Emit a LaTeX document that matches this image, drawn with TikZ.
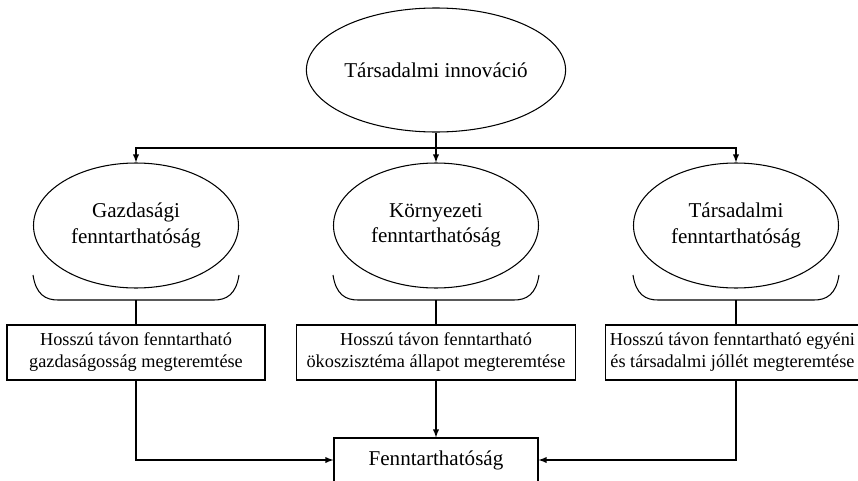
\documentclass[tikz,border=0pt]{standalone}
\usepackage{fontspec}
\setmainfont{Liberation Serif}
\usetikzlibrary{positioning}
\usetikzlibrary{shapes.geometric}

\begin{document}
\begin{tikzpicture}[
    >=latex,
    line width=0.6pt,
    oval/.style={ellipse, draw, align=center, inner sep=0pt, font=\fontsize{12}{14.5}\selectfont},
    goal/.style={rectangle, draw, align=center, minimum height=1.1cm, inner xsep=4pt, inner ysep=2pt, font=\fontsize{10.4}{12.5}\selectfont}
]
    \useasboundingbox (0,0) rectangle (17.16,9.6);

    % Top ellipse
    \node[oval, minimum width=5.16cm, minimum height=2.48cm] (innov) at (8.72,8.2) {Társadalmi innováció};
    \coordinate (split) at (8.72,6.64);

    % Three pillars
    \node[oval, minimum width=4.1cm, minimum height=2.5cm] (gazd) at (2.72,5.09) {Gazdasági\\fenntarthatóság};
    \node[oval, minimum width=4.1cm, minimum height=2.5cm] (korny) at (8.72,5.09) {Környezeti\\fenntarthatóság};
    \node[oval, minimum width=4.1cm, minimum height=2.5cm] (tars) at (14.72,5.09) {Társadalmi\\fenntarthatóság};

    % Brackets under the pillars
    \foreach \n/\x in {gazd/2.72, korny/8.72, tars/14.72}{
        \draw (\x-2.06,4.1) .. controls (\x-2.0,3.7) and (\x-1.8,3.6) .. (\x-1.56,3.6)
            -- (\x+1.56,3.6) .. controls (\x+1.8,3.6) and (\x+2.0,3.7) .. (\x+2.06,4.1);
        \coordinate (\n-b) at (\x,3.6);
    }

    % Goals
    \node[goal, minimum width=5.16cm] (gazdbox) at (2.72,2.55) {Hosszú távon fenntartható\\gazdaságosság megteremtése};
    \node[goal, minimum width=5.58cm] (kornybox) at (8.72,2.55) {Hosszú távon fenntartható\\ökoszisztéma állapot megteremtése};
    \node[goal, anchor=west, inner xsep=2.5pt] (tarsbox) at (12.1,2.55) {Hosszú távon fenntartható egyéni\\és társadalmi jóllét megteremtése};

    % Result
    \node[goal, minimum width=4.08cm, minimum height=0.88cm, font=\fontsize{12}{14}\selectfont] (fennt) at (8.72,0.4) {Fenntarthatóság};

    % Arrows
    \draw[->] (innov) -- (korny);
    \draw[->] (split) -| (gazd);
    \draw[->] (split) -| (tars);
    \draw (gazd-b) -- (gazdbox);
    \draw (korny-b) -- (kornybox);
    \draw (tars-b) -- (tars-b |- tarsbox.north);
    \draw[->] (gazdbox) |- (fennt);
    \draw[->] (kornybox) -- (fennt);
    \draw[->] (tarsbox.south -| tars-b) |- (fennt);
\end{tikzpicture}
\end{document}
